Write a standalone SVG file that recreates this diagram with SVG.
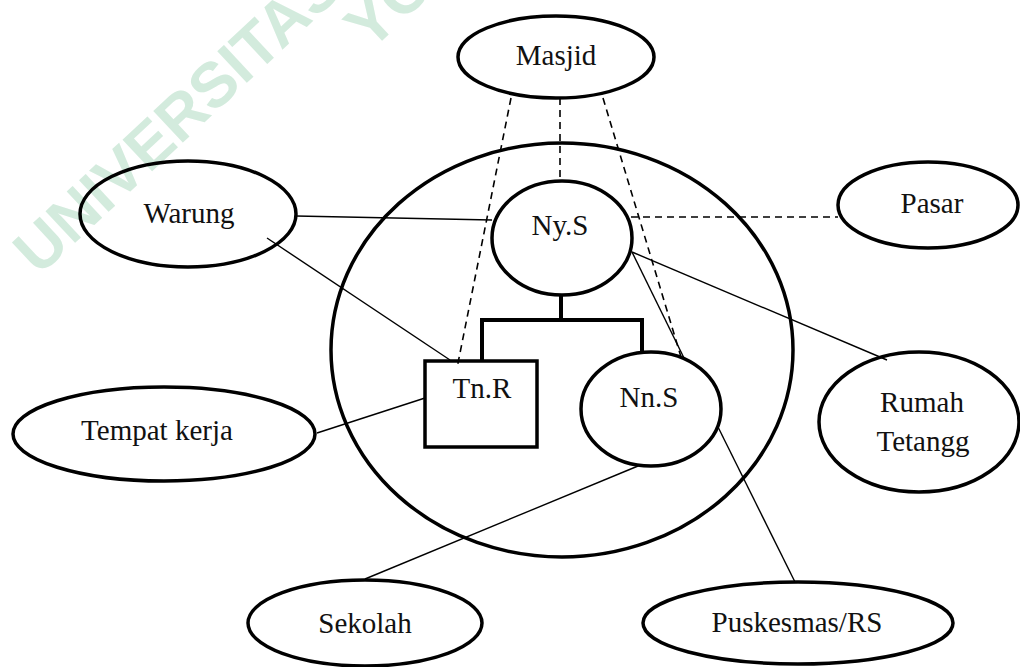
<svg xmlns="http://www.w3.org/2000/svg" width="1020" height="667" viewBox="0 0 1020 667">
<style>
.node{fill:none;stroke:#000;stroke-width:3.5}
.lbl{font-family:"Liberation Serif","Times New Roman",serif;font-size:29px;fill:#111;text-anchor:middle}
.solid{stroke:#000;stroke-width:1.4;fill:none}
.dash{stroke:#000;stroke-width:1.6;fill:none;stroke-dasharray:7 5}
.tree{stroke:#000;stroke-width:4;fill:none}
.wm{font-family:"Liberation Sans",Arial,sans-serif;font-weight:bold;font-size:63px;fill:#d3ebdd}
</style>
<rect width="1020" height="667" fill="#fff"/>
<g id="watermark">
<text class="wm" x="192" y="134" text-anchor="middle" transform="rotate(-43 192 134)">UNIVERSITAS</text>
<text class="wm" x="370" y="52" transform="rotate(-43 370 52)">YO</text>
</g>
<g id="household"><ellipse class="node" cx="562" cy="350" rx="231" ry="207"/></g>
<g id="connectors">
<line class="dash" x1="511" y1="98" x2="457" y2="368"/>
<line class="dash" x1="560" y1="98" x2="560" y2="182"/>
<line class="dash" x1="603" y1="98" x2="681" y2="357"/>
<line class="dash" x1="631" y1="217" x2="838" y2="217"/>
<line class="solid" x1="296" y1="216" x2="492" y2="220"/>
<line class="solid" x1="267" y1="238" x2="450" y2="360"/>
<line class="solid" x1="317" y1="433" x2="425" y2="398"/>
<line class="solid" x1="632" y1="252" x2="887" y2="360"/>
<line class="solid" x1="632" y1="252" x2="684" y2="358"/>
<line class="solid" x1="718" y1="427" x2="795" y2="582"/>
<line class="solid" x1="638" y1="466" x2="365" y2="579"/>
<path class="tree" d="M561,295 V320 M482,361 V320 H642 V352"/>
</g>
<g id="masjid"><ellipse class="node" cx="556" cy="57" rx="98" ry="41"/><text class="lbl" x="556" y="65">Masjid</text></g>
<g id="warung"><ellipse class="node" cx="188" cy="214" rx="108" ry="53"/><text class="lbl" x="189" y="223">Warung</text></g>
<g id="pasar"><ellipse class="node" cx="928" cy="205" rx="90" ry="43"/><text class="lbl" x="932" y="213">Pasar</text></g>
<g id="nys"><ellipse class="node" cx="562" cy="238" rx="70" ry="57"/><text class="lbl" x="560" y="235">Ny.S</text></g>
<g id="tnr"><rect class="node" x="425" y="361" width="112" height="86"/><text class="lbl" x="482" y="398">Tn.R</text></g>
<g id="nns"><ellipse class="node" cx="651" cy="409" rx="70" ry="57"/><text class="lbl" x="649" y="407">Nn.S</text></g>
<g id="tempat-kerja"><ellipse class="node" cx="164" cy="434" rx="151" ry="47"/><text class="lbl" x="157" y="440">Tempat kerja</text></g>
<g id="rumah-tetangga"><ellipse class="node" cx="919" cy="422" rx="100" ry="70"/><text class="lbl" x="922" y="412">Rumah</text><text class="lbl" x="923" y="451">Tetangg</text></g>
<g id="sekolah"><ellipse class="node" cx="365" cy="623" rx="117" ry="43"/><text class="lbl" x="365" y="633">Sekolah</text></g>
<g id="puskesmas"><ellipse class="node" cx="798" cy="623" rx="155" ry="41"/><text class="lbl" x="797" y="632">Puskesmas/RS</text></g>
</svg>
